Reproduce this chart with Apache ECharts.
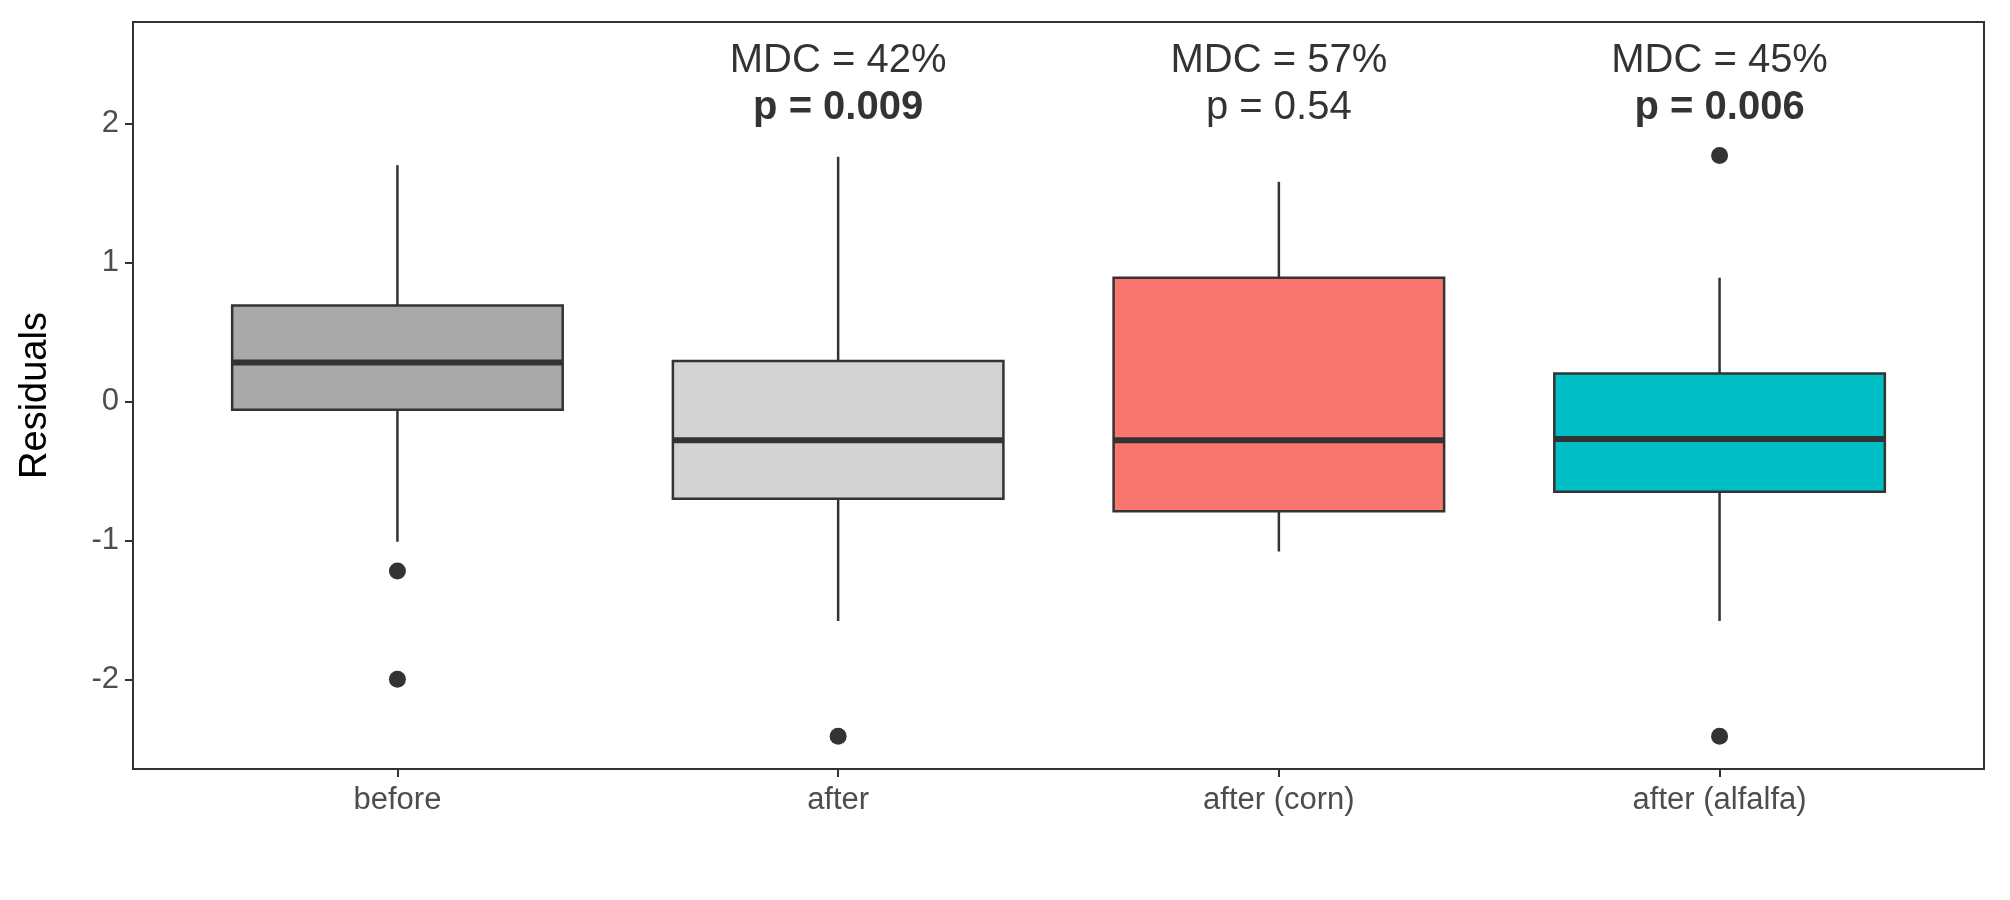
<!DOCTYPE html>
<html>
<head>
<meta charset="utf-8">
<script src="https://cdn.jsdelivr.net/npm/echarts@6/dist/echarts.min.js"></script>
<style>
  html, body { margin: 0; padding: 0; background: #fff; }
  #chart { width: 2010px; height: 900px; }
</style>
</head>
<body>
<div id="chart"></div>
<script>
// values
const categories = ['before', 'after', 'after (corn)', 'after (alfalfa)'];
// [low whisker, Q1, median, Q3, high whisker]
const boxStats = [
  [-1.01, -0.06, 0.28, 0.69, 1.70],
  [-1.58, -0.70, -0.28, 0.29, 1.76],
  [-1.08, -0.79, -0.28, 0.89, 1.58],
  [-1.58, -0.65, -0.27, 0.20, 0.89],
];
const boxColors = ['#A9A9A9', '#D3D3D3', '#F8766D', '#00BFC4'];
const outliers = [[0, -1.22], [0, -2.0], [1, -2.41], [3, 1.77], [3, -2.41]];
const mdcLabels = [null, 'MDC = 42%', 'MDC = 57%', 'MDC = 45%'];
const pLabels = [null, 'p = 0.009', 'p = 0.54', 'p = 0.006'];
const pSignificant = [false, true, false, true];
const xTicks = [0, 1, 2, 3];
const yTicks = [-2, -1, 0, 1, 2];

const EDGE = '#333333';
const FONT = '"Liberation Sans", Arial, sans-serif';
const BOX_HALF = 0.375; // box width 0.75 in category units

const chart = echarts.init(document.getElementById('chart'), null, { renderer: 'canvas' });

chart.setOption({
  animation: false,
  grid: { left: 133, right: 26, top: 22, bottom: 131 },
  xAxis: {
    type: 'value',
    min: -0.6,
    max: 3.6,
    axisLine: { onZero: false, lineStyle: { color: EDGE, width: 2 } },
    axisTick: { show: true, customValues: xTicks, length: 8, lineStyle: { color: EDGE, width: 2 } },
    axisLabel: {
      color: '#4D4D4D', fontSize: 31, fontFamily: FONT, margin: 16,
      customValues: xTicks,
      formatter: (v) => categories[Math.round(v)] || '',
    },
    splitLine: { show: false },
  },
  yAxis: {
    type: 'value',
    min: -2.645,
    max: 2.73,
    name: 'Residuals',
    nameLocation: 'middle',
    nameGap: 78,
    nameTextStyle: { color: '#000', fontSize: 38, fontFamily: FONT },
    axisLine: { show: true, onZero: false, lineStyle: { color: EDGE, width: 2 } },
    axisTick: { show: true, customValues: yTicks, length: 8, lineStyle: { color: EDGE, width: 2 } },
    axisLabel: {
      color: '#4D4D4D', fontSize: 31, fontFamily: FONT, margin: 14,
      customValues: yTicks,
    },
    splitLine: { show: false },
  },
  graphic: [{
    type: 'rect',
    shape: { x: 133, y: 22, width: 2010 - 133 - 26, height: 900 - 22 - 131 },
    style: { fill: 'none', stroke: EDGE, lineWidth: 2 },
    z: 100,
  }],
  series: [
    {
      // ggplot-style box: no whisker caps, thick median
      type: 'custom',
      data: boxStats.map((s, i) => [i, ...s]),
      renderItem: (params, api) => {
        const x = api.value(0);
        const [lo, q1, med, q3, hi] = [1, 2, 3, 4, 5].map((k) => api.value(k));
        const c = api.coord([x, 0])[0];
        const l = api.coord([x - BOX_HALF, 0])[0];
        const r = api.coord([x + BOX_HALF, 0])[0];
        const y = (v) => api.coord([x, v])[1];
        const line = { stroke: EDGE, lineWidth: 2.5 };
        return {
          type: 'group',
          children: [
            { type: 'line', shape: { x1: c, y1: y(hi), x2: c, y2: y(q3) }, style: line },
            { type: 'line', shape: { x1: c, y1: y(q1), x2: c, y2: y(lo) }, style: line },
            {
              type: 'rect',
              shape: { x: l, y: y(q3), width: r - l, height: y(q1) - y(q3) },
              style: { fill: boxColors[params.dataIndex], stroke: EDGE, lineWidth: 2.5 },
            },
            { type: 'line', shape: { x1: l, y1: y(med), x2: r, y2: y(med) }, style: { stroke: EDGE, lineWidth: 6 } },
          ],
        };
      },
    },
    {
      type: 'scatter',
      symbolSize: 17,
      itemStyle: { color: EDGE, opacity: 1 },
      data: outliers,
    },
    {
      type: 'scatter',
      symbolSize: 0,
      silent: true,
      data: categories.map((c, i) => mdcLabels[i] ? [i, 2.45] : null).filter(Boolean),
      label: {
        show: true, position: 'inside', color: '#000', fontSize: 40, fontFamily: FONT,
        formatter: (p) => mdcLabels[p.value[0]],
      },
    },
    {
      type: 'scatter',
      symbolSize: 0,
      silent: true,
      data: categories.map((c, i) => pLabels[i] ? [i, 2.11] : null).filter(Boolean),
      label: {
        show: true, position: 'inside', color: '#000', fontSize: 40, fontFamily: FONT,
        formatter: (p) => pSignificant[p.value[0]] ? '{b|' + pLabels[p.value[0]] + '}' : pLabels[p.value[0]],
        rich: { b: { fontWeight: 'bold', fontSize: 40, fontFamily: FONT, color: '#000' } },
      },
    },
  ],
});
</script>
</body>
</html>
